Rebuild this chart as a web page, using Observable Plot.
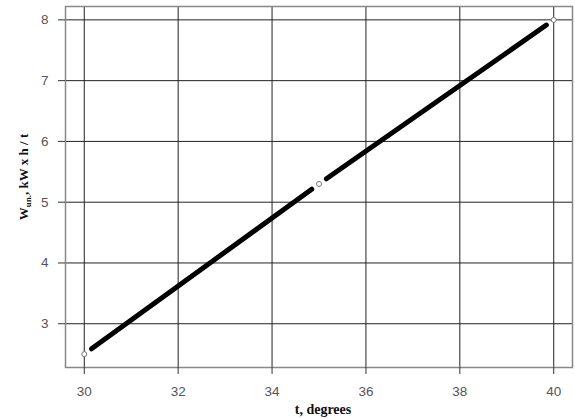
<!DOCTYPE html>
<html>
<head>
<meta charset="utf-8">
<script src="https://cdn.jsdelivr.net/npm/d3@7"></script>
<script src="https://cdn.jsdelivr.net/npm/@observablehq/plot@0.6"></script>
<style>
  html, body { margin: 0; padding: 0; background: #fff; }
</style>
</head>
<body>
<div id="chart"></div>
<script>
const tValues = [30, 35, 40];
const wValues = [2.5, 5.3, 8];
const xTicks = [30, 32, 34, 36, 38, 40];
const yTicks = [3, 4, 5, 6, 7, 8];

const points = tValues.map((t, i) => ({t, w: wValues[i]}));
const segments = d3.pairs(points).map(([a, b]) => ({x1: a.t, y1: a.w, x2: b.t, y2: b.w}));

const xDomain = [29.6, 40.4];
const yDomain = [2.28, 8.22];

const svg = Plot.plot({
  width: 575,
  height: 419,
  marginLeft: 65,
  marginRight: 3,
  marginTop: 6,
  marginBottom: 52,
  style: {fontFamily: "Liberation Sans, Arial, sans-serif", fontSize: "13px", background: "#fff"},
  x: {domain: xDomain},
  y: {domain: yDomain},
  marks: [
    Plot.ruleX(xTicks, {x: d => d, y1: yDomain[0], y2: yDomain[1], stroke: "#222", strokeWidth: 1}),
    Plot.ruleY(yTicks, {y: d => d, x1: xDomain[0], x2: xDomain[1], stroke: "#222", strokeWidth: 1}),
    Plot.frame({stroke: "#888", strokeWidth: 1.5}),
    Plot.axisX({ticks: xTicks, tickFormat: "d", tickSize: 7, tickPadding: 12, label: null, stroke: "#333", color: "#555", fontSize: 13.5}),
    Plot.axisY({ticks: yTicks, tickFormat: "d", tickSize: 7, tickPadding: 10, label: null, stroke: "#333", color: "#555", fontSize: 13.5}),
    Plot.arrow(segments, {x1: "x1", y1: "y1", x2: "x2", y2: "y2", bend: 0, headLength: 0, inset: 9, stroke: "#000", strokeWidth: 5, strokeLinecap: "round"}),
    Plot.dot(points, {x: "t", y: "w", r: 2.5, stroke: "#777", strokeWidth: 1, fill: "#fff"})
  ]
});

const s = d3.select(svg);
s.append("text")
  .attr("x", 323).attr("y", 414)
  .attr("text-anchor", "middle")
  .attr("font-family", "Liberation Serif, Times New Roman, serif")
  .attr("font-weight", "bold")
  .attr("font-size", 14)
  .attr("fill", "#111")
  .text("t, degrees");

const yl = s.append("text")
  .attr("transform", "translate(28,177) rotate(-90)")
  .attr("text-anchor", "middle")
  .attr("font-family", "Liberation Serif, Times New Roman, serif")
  .attr("font-weight", "bold")
  .attr("font-size", 13)
  .attr("fill", "#111");
yl.append("tspan").text("W");
yl.append("tspan").attr("font-size", 9).attr("dy", 3).text("un.");
yl.append("tspan").attr("dy", -3).text(", kW x h / t");

document.getElementById("chart").appendChild(svg);
</script>
</body>
</html>
